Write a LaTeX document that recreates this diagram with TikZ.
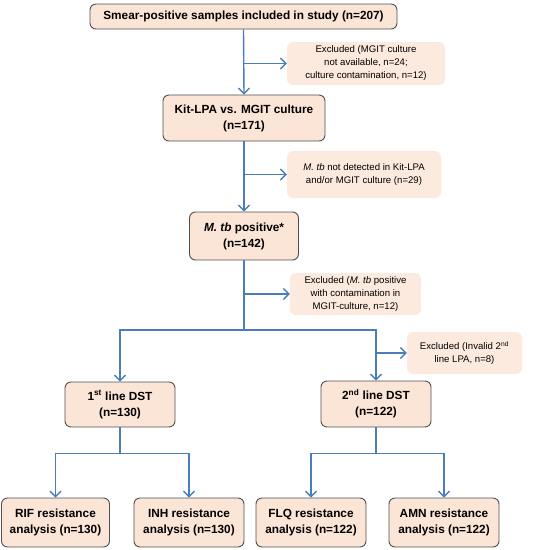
\documentclass[tikz,border=0pt]{standalone}
\usepackage{fontspec}
\setmainfont{Liberation Sans}
\usetikzlibrary{arrows.meta, positioning, calc}

\definecolor{peach}{HTML}{FBE5D6}
\definecolor{peachlight}{HTML}{FCEADF}
\definecolor{frame}{HTML}{505050}
\definecolor{flow}{HTML}{4A7EBB}

\begin{document}
\begin{tikzpicture}[x=1pt, y=-1pt, >={Straight Barb[length=5.5pt,width=11pt]},
  every node/.style = {align=center, inner sep=2pt},
  box/.style = {draw=frame, line width=0.9pt, rounded corners=6pt, fill=peach,
    font=\fontsize{11.8}{16}\selectfont\bfseries},
  note/.style = {rounded corners=6pt, fill=peachlight,
    font=\fontsize{9.6}{13}\selectfont},
  link/.style = {draw=flow, line width=1.4pt, ->}]
  \useasboundingbox (0,0) rectangle (550,550);
  % main boxes
  \node[box, minimum width=307pt, minimum height=25pt] (smear) at (243.5,16.5)
    {Smear-positive samples included in study (n=207)};
  \node[box, minimum width=162pt, minimum height=46pt] (kit) at (244,118)
    {Kit-LPA vs. MGIT culture\\(n=171)};
  \node[box, minimum width=109pt, minimum height=48pt] (mtb) at (244,236)
    {\textit{M. tb} positive*\\(n=142)};
  \node[box, minimum width=110pt, minimum height=45pt] (first) at (120,404.5)
    {1\textsuperscript{st} line DST\\(n=130)};
  \node[box, minimum width=110pt, minimum height=46pt] (second) at (376,404)
    {2\textsuperscript{nd} line DST\\(n=122)};
  \node[box, minimum width=108pt, minimum height=49pt] (rif) at (55.5,522.5)
    {RIF resistance\\analysis (n=130)};
  \node[box, minimum width=110pt, minimum height=49pt] (inh) at (189,522.5)
    {INH resistance\\analysis (n=130)};
  \node[box, minimum width=110pt, minimum height=49pt] (flq) at (311,522.5)
    {FLQ resistance\\analysis (n=122)};
  \node[box, minimum width=110pt, minimum height=49pt] (amn) at (444,522.5)
    {AMN resistance\\analysis (n=122)};
  % exclusions
  \node[note, minimum width=158pt, minimum height=43pt] (exone) at (366,63.5)
    {Excluded (MGIT culture\\not available, n=24;\\culture contamination, n=12)};
  \node[note, minimum width=154pt, minimum height=47pt] (extwo) at (364,174.5)
    {\textit{M. tb} not detected in Kit-LPA\\and/or MGIT culture (n=29)};
  \node[note, minimum width=131pt, minimum height=42pt] (exthree) at (355.5,294)
    {Excluded (\textit{M. tb} positive\\with contamination in\\MGIT-culture, n=12)};
  \node[note, minimum width=115pt, minimum height=42pt] (exfour) at (464.5,353)
    {Excluded (Invalid 2\textsuperscript{nd}\\line LPA, n=8)};
  % connectors
  \coordinate (split) at (244,330);
  \draw[link] (smear.south) -- (kit.north);
  \draw[link] (smear.south |- exone.west) -- (exone.west);
  \draw[link] (kit.south) -- (mtb.north);
  \draw[link] (kit.south |- extwo.west) -- (extwo.west);
  \draw[link] (mtb.south) -- (split) -| (first.north);
  \draw[link] (split) -| (second.north);
  \draw[link] (mtb.south |- exthree.west) -- (exthree.west);
  \draw[link] (second.north |- exfour.west) -- (exfour.west);
  \draw[link] (first.south) -- ++(0,26) coordinate (lsplit) -| (rif.north);
  \draw[link] (lsplit) -| (inh.north);
  \draw[link] (second.south) -- ++(0,26) coordinate (rsplit) -| (flq.north);
  \draw[link] (rsplit) -| (amn.north);
\end{tikzpicture}
\end{document}
